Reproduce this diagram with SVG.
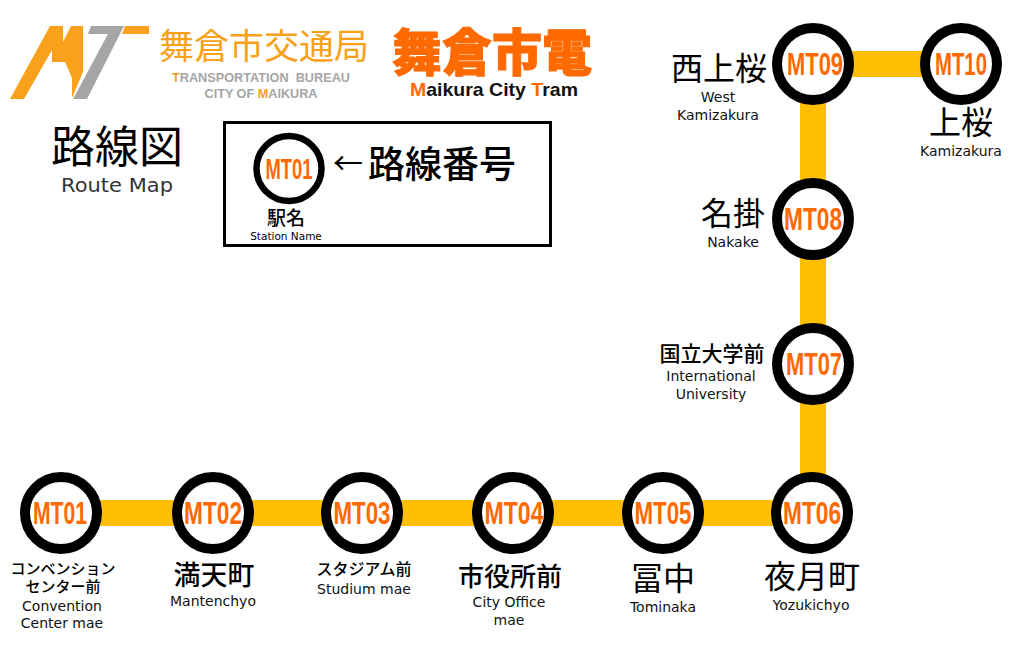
<svg xmlns="http://www.w3.org/2000/svg" width="1026" height="651" viewBox="0 0 1026 651">
<style>
text{font-family:"DejaVu Sans","Noto Sans CJK JP",sans-serif;text-anchor:middle;fill:#000}
.jp{font-family:"Noto Sans CJK JP",sans-serif}
.en{font-family:"DejaVu Sans",sans-serif;font-size:14px;fill:#111}
.st{fill:#fff;stroke:#000;stroke-width:10}
.no{font-family:"Liberation Sans",sans-serif;font-weight:700;font-size:31px;fill:#ff6a00}
.line{stroke:#ffbf00;stroke-width:26;fill:none}
.lg{font-family:"Liberation Sans",sans-serif;font-weight:700;font-size:13.500px;fill:#a5a5a5}
.j32{font-size:32px}.j27{font-size:27px;font-weight:500}.j21{font-size:21px;font-weight:500}.j16{font-size:16px;font-weight:500}.j15{font-size:15px;font-weight:500}
.or{fill:#f9a11b}.gr{fill:#a5a5a5}
</style>
<rect width="1026" height="651" fill="#fff"/>
<g id="connectors">
<path class="line" d="M61 513H813V64H961"/>
</g>
<g id="logo">
<polygon class="or" points="10,99 50,26 63,26 63,42 71,26 83,26 83,72 72,98 72,78 65,62 52,62 52,50 24,99"/>
<polygon class="gr" points="91,26 124,26 87,99 73,99 108,34 88,34"/>
<polygon class="or" points="125,26 149,26 149,34 122,34"/>
<text x="264" y="59" class="jp" style="font-size:35px;fill:#f9a11b">舞倉市交通局</text>
<text x="261" y="82" class="lg" textLength="178" lengthAdjust="spacingAndGlyphs"><tspan fill="#f9a11b">T</tspan>RANSPORTATION&#160;&#160;BUREAU</text>
<text x="261" y="98" class="lg" textLength="113" lengthAdjust="spacingAndGlyphs">CITY OF&#160;<tspan fill="#f9a11b">M</tspan>AIKURA</text>
<text x="492" y="71" class="jp" style="font-size:50px;font-weight:900;fill:#ff6a00;stroke:#ff6a00;stroke-width:1">舞倉市電</text>
<text x="494" y="96" style="font-family:'Liberation Sans',sans-serif;font-size:19px;font-weight:700;fill:#111" textLength="168" lengthAdjust="spacingAndGlyphs"><tspan fill="#ff6a00">M</tspan>aikura City <tspan fill="#ff6a00">T</tspan>ram</text>
</g>
<g id="title">
<text x="117" y="163" class="jp" style="font-size:44px">路線図</text>
<text x="117" y="192" style="font-size:19px;fill:#333" textLength="112" lengthAdjust="spacingAndGlyphs">Route Map</text>
</g>
<g id="legend">
<rect x="224.500" y="122.500" width="326" height="123" fill="#fff" stroke="#000" stroke-width="3"/>
<circle cx="289" cy="168.500" r="32.500" fill="#fff" stroke="#000" stroke-width="6.500"/>
<text x="289" y="179" class="no" style="font-size:29px" textLength="47" lengthAdjust="spacingAndGlyphs">MT01</text>
<text x="348" y="174" class="jp" style="font-size:30px">←</text>
<text x="442" y="178" class="jp" style="font-size:37px;font-weight:500">路線番号</text>
<text x="286" y="225" class="jp" style="font-size:19px;font-weight:500">駅名</text>
<text x="286" y="240" style="font-size:10.500px">Station Name</text>
</g>
<g id="mt01"><circle class="st" cx="61" cy="513" r="36"/><text class="no" x="60" y="524" textLength="54" lengthAdjust="spacingAndGlyphs">MT01</text>
<text class="jp j15" x="63" y="574">コンベンション</text><text class="jp j15" x="63" y="592">センター前</text><text class="en" x="62" y="611">Convention</text><text class="en" x="62" y="628">Center mae</text></g>
<g id="mt02"><circle class="st" cx="213" cy="513" r="36"/><text class="no" x="213" y="524" textLength="58" lengthAdjust="spacingAndGlyphs">MT02</text>
<text class="jp j27" x="214" y="585">満天町</text><text class="en" x="213" y="606">Mantenchyo</text></g>
<g id="mt03"><circle class="st" cx="362" cy="513" r="36"/><text class="no" x="362" y="524" textLength="57" lengthAdjust="spacingAndGlyphs">MT03</text>
<text class="jp j16" x="364" y="575">スタジアム前</text><text class="en" x="364" y="594">Studium mae</text></g>
<g id="mt04"><circle class="st" cx="513" cy="513" r="36"/><text class="no" x="514" y="524" textLength="59" lengthAdjust="spacingAndGlyphs">MT04</text>
<text class="jp" style="font-size:26px;font-weight:500" x="510" y="586">市役所前</text><text class="en" x="509" y="607">City Office</text><text class="en" x="509" y="625">mae</text></g>
<g id="mt05"><circle class="st" cx="663" cy="513" r="36"/><text class="no" x="663" y="524" textLength="57" lengthAdjust="spacingAndGlyphs">MT05</text>
<text class="jp j32" x="663" y="590">冨中</text><text class="en" x="663" y="612">Tominaka</text></g>
<g id="mt06"><circle class="st" cx="812" cy="513" r="36"/><text class="no" x="812" y="524" textLength="58" lengthAdjust="spacingAndGlyphs">MT06</text>
<text class="jp j32" x="812" y="588">夜月町</text><text class="en" x="811" y="610">Yozukichyo</text></g>
<g id="mt07"><circle class="st" cx="813" cy="364" r="36"/><text class="no" x="814" y="375" textLength="56" lengthAdjust="spacingAndGlyphs">MT07</text>
<text class="jp j21" x="712" y="361">国立大学前</text><text class="en" x="711" y="381">International</text><text class="en" x="711" y="399">University</text></g>
<g id="mt08"><circle class="st" cx="813" cy="219" r="36"/><text class="no" x="813" y="230" textLength="58" lengthAdjust="spacingAndGlyphs">MT08</text>
<text class="jp j32" x="733" y="225">名掛</text><text class="en" x="733" y="247">Nakake</text></g>
<g id="mt09"><circle class="st" cx="813" cy="64" r="36"/><text class="no" x="815" y="75" textLength="56" lengthAdjust="spacingAndGlyphs">MT09</text>
<text class="jp j32" x="719" y="80">西上桜</text><text class="en" x="718" y="102">West</text><text class="en" x="718" y="120">Kamizakura</text></g>
<g id="mt10"><circle class="st" cx="961" cy="64" r="36"/><text class="no" x="961" y="75" textLength="52" lengthAdjust="spacingAndGlyphs">MT10</text>
<text class="jp j32" x="961" y="134">上桜</text><text class="en" x="961" y="156">Kamizakura</text></g>
</svg>
